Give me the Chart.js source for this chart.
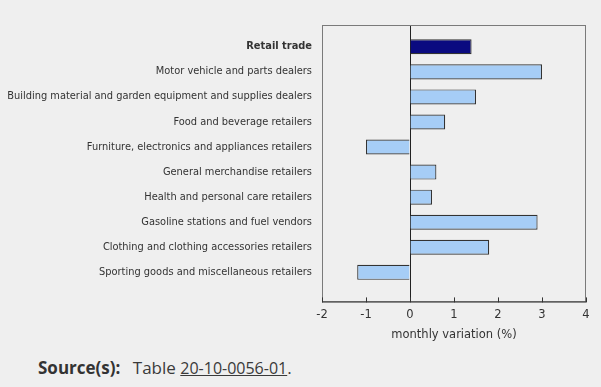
<!DOCTYPE html>
<html>
<head>
<meta charset="utf-8">
<script src="https://cdn.jsdelivr.net/npm/chart.js@4.4.0/dist/chart.umd.min.js"></script>
<style>
  html, body { margin: 0; padding: 0; background: #efefef; width: 601px; height: 387px; overflow: hidden; }
  #wrap { position: absolute; left: 0; top: 0; width: 601px; height: 350px; }
  #src { position: absolute; left: 38px; top: 356px; font-family: "Open Sans", sans-serif; font-size: 17px; color: #3a3a3a; white-space: nowrap; }
  #src b { font-weight: 700; margin-right: 8px; color: #333; }
  #src u { text-decoration: underline; font-size: 16px; }
</style>
</head>
<body>
<div id="wrap"><canvas id="c" width="601" height="350"></canvas></div>
<div id="src"><b>Source(s):</b> Table <u>20-10-0056-01</u>.</div>
<script>
const categories = [
  "Retail trade",
  "Motor vehicle and parts dealers",
  "Building material and garden equipment and supplies dealers",
  "Food and beverage retailers",
  "Furniture, electronics and appliances retailers",
  "General merchandise retailers",
  "Health and personal care retailers",
  "Gasoline stations and fuel vendors",
  "Clothing and clothing accessories retailers",
  "Sporting goods and miscellaneous retailers"
];
const values = [1.4, 3.0, 1.5, 0.8, -1.0, 0.6, 0.5, 2.9, 1.8, -1.2];
const xTicks = [-2, -1, 0, 1, 2, 3, 4];
const axisTitle = "monthly variation (%)";

const NAVY = '#0a0a80', LIGHT = '#a6cdf6';
const barColors = values.map((v, i) => i === 0 ? NAVY : LIGHT);
const points = values.map((v, i) => ({ x: v, y: i }));

const framePlugin = {
  id: 'frame',
  afterDraw(chart) {
    const { ctx, chartArea: a, scales } = chart;
    ctx.save();
    ctx.strokeStyle = '#7a7a7a';
    ctx.lineWidth = 1;
    ctx.strokeRect(a.left + 0.5, a.top + 0.5, a.right - a.left - 1, a.bottom - a.top - 1);
    ctx.strokeStyle = '#333';
    ctx.beginPath();
    ctx.moveTo(a.left, a.bottom - 0.5); ctx.lineTo(a.right, a.bottom - 0.5);
    xTicks.forEach(t => {
      const px = Math.round(scales.x.getPixelForValue(t)) + 0.5;
      ctx.moveTo(px, a.bottom); ctx.lineTo(px, a.bottom - 5);
    });
    ctx.stroke();
    ctx.restore();
  }
};

new Chart(document.getElementById('c'), {
  type: 'bar',
  data: {
    datasets: [{
      data: points,
      backgroundColor: barColors,
      borderColor: '#333',
      borderWidth: 1.2,
      barPercentage: 0.6,
      categoryPercentage: 1.0
    }]
  },
  plugins: [framePlugin],
  options: {
    indexAxis: 'y',
    responsive: false,
    animation: false,
    layout: { padding: { left: 0, right: 15, top: 25, bottom: 8 } },
    plugins: { legend: { display: false }, tooltip: { enabled: false } },
    scales: {
      x: {
        type: 'linear',
        min: -2, max: 4,
        afterBuildTicks: s => { s.ticks = xTicks.map(v => ({ value: v })); },
        border: { display: false },
        grid: {
          drawTicks: false,
          color: c => (c.tick && c.tick.value === 0) ? '#222' : 'rgba(0,0,0,0)',
          lineWidth: 1
        },
        ticks: { padding: 6, color: '#333', font: { family: 'DejaVu Sans', size: 11.5 } },
        title: { display: true, text: axisTitle, color: '#333', padding: { top: 0, bottom: 0 }, font: { family: 'DejaVu Sans', size: 11.5 } }
      },
      y: {
        type: 'linear',
        reverse: true,
        offset: false,
        min: -0.87, max: 10.2,
        afterBuildTicks: s => { s.ticks = categories.map((c, i) => ({ value: i })); },
        afterFit: s => { s.width = 322; },
        border: { display: false },
        grid: { display: false, drawTicks: false },
        ticks: {
          padding: 10,
          color: '#333',
          callback: v => categories[v],
          font: c => ({ family: 'DejaVu Sans', size: 9.85, weight: c.index === 0 ? 'bold' : 'normal' })
        }
      }
    }
  }
});
</script>
</body>
</html>
